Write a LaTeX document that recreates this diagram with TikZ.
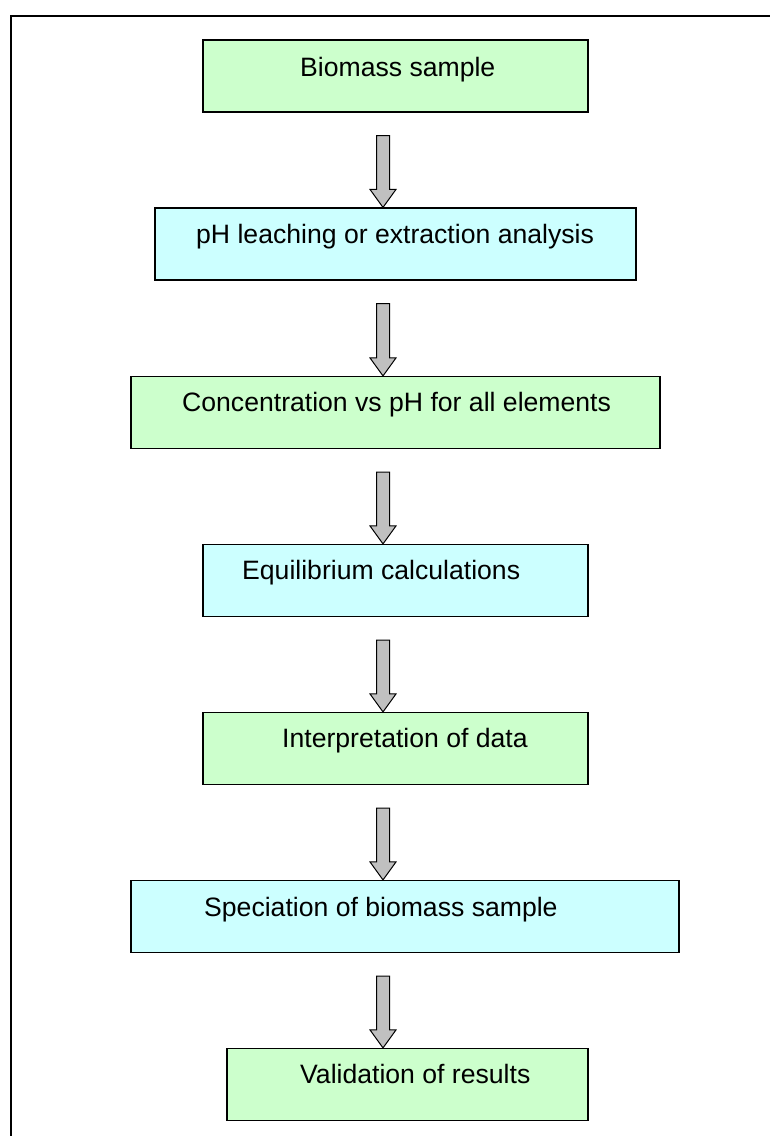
\documentclass[tikz,border=0pt]{standalone}
\usepackage{fontspec}
\setmainfont{Liberation Sans}
\usetikzlibrary{calc}
\definecolor{boxgreen}{HTML}{CCFFCC}
\definecolor{boxcyan}{HTML}{CCFFFF}
\definecolor{arrowgrey}{HTML}{C0C0C0}
\tikzset{
  stepbox/.style={draw=black, line width=1.2pt, rectangle, inner sep=0pt, minimum height=72pt},
  greenbox/.style={stepbox, fill=boxgreen},
  cyanbox/.style={stepbox, fill=boxcyan},
  steptext/.style={anchor=base west, inner sep=0pt, font=\fontsize{26.6}{32}\selectfont},
  blockarrow/.style={draw=black, line width=1pt, fill=arrowgrey, line join=miter},
  frameline/.style={draw=black, line width=1.5pt}
}
\newcommand{\flowarrow}[2]{%
  \draw[blockarrow] ($(ax |- #1.south)+(-6.5,23)$) -- ++(13,0)
    -- ($(ax |- #2.north)+(6.5,-18)$) -- ++(6.5,0)
    -- (ax |- #2.north) -- ++(-13,-18) -- ++(6.5,0) -- cycle;}
\begin{document}
\begin{tikzpicture}[x=1pt,y=-1pt]
\useasboundingbox (0,0) rectangle (770,1136);
\fill[white] (0,0) rectangle (770,1136);
\draw[frameline] (11,1136) -- (11,16) -- (770,16);
\coordinate (ax) at (383,0);
% boxes
\node[greenbox, minimum width=385pt] (b1) at (395.5,76) {};
\node[cyanbox,  minimum width=481pt] (b2) at (395.5,244) {};
\node[greenbox, minimum width=529pt] (b3) at (395.5,412.5) {};
\node[cyanbox,  minimum width=385pt] (b4) at (395.5,580.5) {};
\node[greenbox, minimum width=385pt] (b5) at (395.5,748.5) {};
\node[cyanbox,  minimum width=548pt] (b6) at (405,916.5) {};
\node[greenbox, minimum width=361pt] (b7) at (407.5,1084.5) {};
% texts
\node[steptext] (t1) at (300,76) {Biomass sample};
\node[steptext] (t2) at (196,243.5) {pH leaching or extraction analysis};
\node[steptext] (t3) at (182,411.5) {Concentration vs pH for all elements};
\node[steptext] (t4) at (242,579.5) {Equilibrium calculations};
\node[steptext] (t5) at (282,747.5) {Interpretation of data};
\node[steptext] (t6) at (204,916) {Speciation of biomass sample};
\node[steptext] (t7) at (300,1083.5) {Validation of results};
% arrows
\flowarrow{b1}{b2}
\flowarrow{b2}{b3}
\flowarrow{b3}{b4}
\flowarrow{b4}{b5}
\flowarrow{b5}{b6}
\flowarrow{b6}{b7}
\end{tikzpicture}
\end{document}
